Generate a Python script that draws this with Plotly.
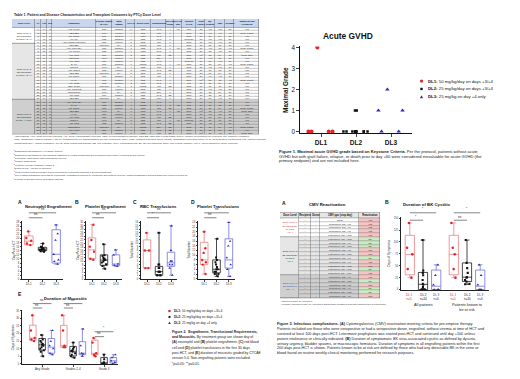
import plotly.graph_objects as go

W, H = 520, 379
FONT = "Liberation Sans, Arial, sans-serif"


def X(p):
    return p / W


def Y(p):
    return 1 - p / H


# ------------------------------------------------------------------ data
dose_levels = ["DL1", "DL2", "DL3"]
dose_desc = ["50 mg/kg/day on days +3/+4", "25 mg/kg/day on days +3/+4", "25 mg/kg on day +4 only"]

# Figure 1 - maximal acute GVHD grade
gvhd_dl1 = [4, 0, 0, 0, 0]
gvhd_dl2 = [1, 1, 0, 0, 0, 0, 0, 0, 0, 0, 0, 0, 0, 0]
gvhd_dl3 = [2, 1, 1, 0, 0]
gvhd_ticks = [0, 1, 2, 3, 4]

# Figure 2 - points and box stats [min, q1, median, q3, max]
neut_pts = {"DL1": [23.5, 20.3, 18.9, 17.6, 16.8],
            "DL2": [17.6, 16.0, 15.6, 15.3, 15.0, 14.8, 14.6, 14.4, 14.1, 13.8, 13.6],
            "DL3": [26.7, 22.4, 19.2, 12.3, 9.6, 8.8, 7.5]}
neut_stats = {"DL1": [16.8, 16.9, 18.7, 21.3, 23.5],
              "DL2": [13.6, 14.1, 14.9, 15.7, 17.6],
              "DL3": [7.5, 8.0, 12.3, 24.3, 26.7]}

plt_pts = {"DL1": [30.5, 22.0, 18.3, 15.5, 11.5, 11.0],
           "DL2": [19.6, 13.5, 13.0, 12.0, 11.5, 11.0, 10.8, 10.0, 9.5, 8.5, 7.5, 5.9],
           "DL3": [16.5, 13.7, 8.6, 8.0, 7.3]}
plt_stats = {"DL1": [11.0, 11.5, 16.5, 23.2, 30.5],
             "DL2": [5.9, 7.9, 10.8, 13.7, 19.6],
             "DL3": [7.3, 7.7, 8.6, 13.7, 16.5]}

rbc_pts = {"DL1": [13, 8, 8, 3, 3],
           "DL2": [13, 4, 4, 3, 3, 2, 2, 2, 1, 1, 1, 1],
           "DL3": [15, 8, 5, 5, 4, 4, 3, 1]}
rbc_stats = {"DL1": [3, 3, 8, 11, 13],
             "DL2": [1, 1, 2, 3.5, 13],
             "DL3": [1, 3.5, 4.5, 7.5, 15]}

pltx_pts = {"DL1": [20, 13, 11, 8, 7, 6, 2],
            "DL2": [17, 9, 8, 7, 6, 5, 4, 4, 3, 3, 2, 2, 1],
            "DL3": [24, 16, 14, 9, 6, 4, 1]}
pltx_stats = {"DL1": [2, 6, 8, 15.5, 20],
              "DL2": [1, 2.5, 4, 8, 17],
              "DL3": [1, 4.5, 8, 17, 24]}

muco_groups = ["Any Grade", "Grades 2-4", "Grade 3"]
muco_pts = {"DL1": [[32, 22, 17, 16, 15], [32, 22, 12, 11, 11], [17, 14, 7, 6, 5]],
            "DL2": [[19, 16, 15, 14, 13, 12.5, 12, 11, 10, 9, 8, 5],
                    [14, 11, 10, 9, 8.5, 8, 7, 6, 5, 4],
                    [6, 3, 1, 0, 0, 0, 0, 0, 0, 0]],
            "DL3": [[22, 15, 12, 10, 7, 6], [23, 12, 7, 6.5, 5], [6, 4, 2, 1, 0]]}
muco_stats = {"DL1": [[15, 15.5, 17, 25.5, 32], [11, 11, 12, 25.4, 32], [5, 6, 7, 15.6, 17]],
              "DL2": [[5, 9, 12.5, 16.7, 19], [4, 5.2, 8.3, 11.5, 14], [0, 0, 0.5, 4.2, 6.3]],
              "DL3": [[6, 7, 11, 16.7, 22], [5, 6, 7, 14.6, 23], [0, 0.5, 2, 4.2, 6]]}

# Figure 3B - BK cystitis
bk_groups = ["All patients", "Patients known to be at risk"]
bk_pts = {"DL1": [[140, 88, 74, 43, 25], [140, 88, 74, 43, 25]],
          "DL2": [[104, 40, 35, 30, 20, 12, 10, 5, 0, 0, 0, 0, 0, 0],
                  [104, 56, 45, 35, 26, 25, 20, 17, 12, 11]],
          "DL3": [[52, 30, 10, 0, 0, 0], [52, 30, 10, 0, 0, 0]]}
bk_stats = {"DL1": [[25, 31, 74, 114, 140], [25, 31, 74, 114, 140]],
            "DL2": [[0, 0, 11, 36, 104], [11, 17, 26, 56, 104]],
            "DL3": [[0, 0, 7, 41, 52], [0, 0, 7, 41, 52]]}
bk_n = {"All patients": ["n=5", "n=14", "n=6"],
        "Patients known to be at risk": ["n=5", "n=10", "n=6"]}

# Figure 3A - CMV table
cmv_header = ["Dose Level", "Recipient", "Donor", "CMV ppx (stop day)", "Reactivation"]
cmv_group_sizes = [5, 10, 6]
cmv_group_labels = ["<span style='color:#d42a2a'>Dose Level 1<br>50 mg/kg/day<br>on days<br>+3/+4</span>",
                    "Dose Level 2<br>25 mg/kg/day<br>on days<br>+3/+4",
                    "<span style='color:#2f4fb5'>Dose Level 3<br>25 mg/kg on<br>day +4</span>"]
cmv_recipient = ["+", "+", "+", "+", "+", "+", "+", "+", "-", "+", "+", "+", "+", "+", "+",
                 "+", "+", "+", "+", "+", "-"]
cmv_donor = ["+", "-", "+", "+", "-", "+", "-", "+", "+", "-", "+", "+", "-", "+", "+",
             "+", "-", "+", "+", "-", "+"]
cmv_ppx = ["None", "Letermovir, day +98", "Letermovir, day +99", "Letermovir, day +96",
           "Letermovir, day +101", "Letermovir, day +100", "Letermovir, day +99",
           "Letermovir, day +100", "Letermovir, day +98", "Letermovir, day +100",
           "Letermovir, day +99", "Letermovir, day +97", "Letermovir, day +100",
           "Letermovir, day +101", "Letermovir, day +77**", "Letermovir, day +99",
           "Letermovir, day +100", "Letermovir, day +98", "Letermovir, day +99",
           "Letermovir, day +100", "Letermovir, day +96"]
cmv_react = ["Yes", "Yes", "Yes", "Yes", "Yes", "No", "No", "No", "Yes", "Yes*", "No", "Yes",
             "Yes*", "No", "Yes", "Yes", "No", "Yes*", "No", "No", "Yes*"]
cmv_footnotes = ["*Occurred while on letermovir",
                 "**Primary infection at day 16; letermovir started after treatment and then stopped due to intolerance"]

# Table 1
t1_title = "<b>Table 1. Patient and Disease Characteristics and Transplant Outcomes by PTCy Dose Level</b>"
t1_group_sizes = [5, 18, 11]
t1_group_labels = ["Dose Level 1<br>(50 mg/kg/day<br>on days +3/+4)",
                   "Dose Level 2<br>(25 mg/kg/day<br>on days +3/+4)",
                   "Dose Level 3<br>(25 mg/kg/day<br>on day +4 only)"]
t1_headers = ["Dose Level", "Pt", "Age", "Sex", "Diagnosis", "Disease Status<br>at HCT", "MRD<br>Status",
              "HCT-CI", "Donor Type", "Conditioning", "aGVHD<br>Grade", "aGVHD<br>Day", "Chronic<br>GVHD",
              "Graft<br>Failure", "BK<br>Cystitis", "CMV", "Relapse", "Status at Last<br>Follow-up"]
t1_pt = ["1", "2", "3", "4", "5", "6", "7", "8", "9", "10", "11", "12", "13", "14", "15", "16", "17",
         "18", "19", "20", "21", "22", "23", "24", "25", "26", "27", "28", "29", "30", "31", "32", "33", "34"]
t1_age = ["64", "58", "71", "45", "66", "52", "69", "38", "61", "73", "55", "47", "68", "62", "59", "70",
          "41", "57", "66", "63", "50", "72", "60", "67", "44", "58", "71", "36", "65", "53", "62", "69",
          "48", "59"]
t1_sex = ["M", "F", "M", "M", "F", "M", "F", "M", "M", "F", "M", "F", "M", "M", "F", "M", "F", "M",
          "M", "F", "M", "M", "F", "F", "M", "M", "F", "M", "M", "F", "M", "M", "F", "M"]
t1_diag = ["AML, inv(16)", "MDS-EB2", "AML, NPM1+", "ALL, Ph+", "AML, complex karyotype",
           "MDS-EB1", "AML, FLT3-ITD+", "ALL, Ph-like", "AML, MRC", "MDS/MPN", "AML, TP53", "B-ALL",
           "CMML-2", "AML, RUNX1", "MDS-EB2", "AML, NPM1+", "T-ALL", "AML, t(8;21)", "MDS, del(5q)",
           "AML, FLT3-TKD", "Myelofibrosis", "AML, MRC", "MDS-EB1",
           "AML, FLT3-ITD+", "B-ALL", "AML, NPM1+", "MDS-EB2", "T-ALL", "AML, TP53", "CMML-1",
           "AML, MRC", "MDS/MPN-U", "AML, inv(3)", "MPAL"]
t1_status = ["CR1", "Active", "CR1", "CR2", "CR1", "Untreated", "CR1", "CR2", "CR1", "Active", "CR1",
             "CR1", "Active", "CR2", "Untreated", "CR1", "CR1", "CR2", "Untreated", "CR1", "Active",
             "CR1", "Untreated", "CR1", "CR2", "CR1", "Active", "CR1", "CR1", "Active", "CR2",
             "Untreated", "CR1", "CR1"]
t1_mrd = ["Negative", "Positive", "Negative", "Negative", "Positive", "N/A", "Negative", "Positive",
          "Negative", "Positive", "Negative", "Negative", "N/A", "Positive", "N/A", "Negative", "Negative",
          "Negative", "N/A", "Positive", "N/A", "Negative", "N/A", "Negative", "Negative", "Positive",
          "N/A", "Negative", "Positive", "N/A", "Negative", "N/A", "Negative", "Positive"]
t1_hctci = ["3", "1", "4", "0", "2", "5", "3", "1", "2", "6", "3", "0", "4", "2", "3", "5", "1", "2",
            "3", "4", "2", "3", "1", "4", "0", "2", "3", "1", "5", "2", "3", "4", "1", "2"]
t1_donor = ["MUD", "MUD", "Haplo", "MRD", "MUD", "MMUD", "MUD", "Haplo", "MUD", "MRD", "MUD", "MMUD",
            "MUD", "Haplo", "MUD", "MUD", "MRD", "MUD", "MMUD", "MUD", "Haplo", "MUD", "MRD", "MUD",
            "MMUD", "MUD", "Haplo", "MUD", "MRD", "MUD", "MUD", "MMUD", "MUD", "Haplo"]
t1_cond = ["MAC", "RIC", "MAC", "MAC", "RIC", "RIC", "MAC", "MAC", "RIC", "NMA", "MAC", "MAC", "RIC",
           "MAC", "RIC", "RIC", "MAC", "MAC", "RIC", "RIC", "NMA", "MAC", "RIC", "MAC", "MAC", "RIC",
           "MAC", "MAC", "RIC", "RIC", "MAC", "NMA", "MAC", "RIC"]
t1_agrade = ["4", "0", "0", "0", "0", "0", "1", "0", "NE", "0", "0", "1", "0", "NE", "0", "0", "0", "0",
             "NE", "0", "0", "NE", "0", "0", "2", "NE", "1", "0", "NE", "1", "NE", "NE", "NE", "NE"]
t1_aday = ["+24", "-", "-", "-", "-", "-", "+31", "-", "-", "-", "-", "+45", "-", "-", "-", "-", "-", "-",
           "-", "-", "-", "-", "-", "-", "+28", "-", "+52", "-", "-", "+39", "-", "-", "-", "-"]
t1_cgvhd = ["Mild", "None", "None", "Moderate", "None", "None", "Mild", "None", "None", "None",
            "Moderate", "None", "None", "Mild", "None", "None", "None", "Mild", "None", "None", "None",
            "None", "None", "None", "Mild", "None", "None", "None", "None", "Moderate", "None", "None",
            "None", "None"]
t1_gf = ["No", "No", "No", "No", "No", "No", "No", "No", "Yes<sup>c</sup>", "No", "No", "No", "No", "No",
         "No", "No", "Yes<sup>d</sup>", "No", "No", "No", "No", "No", "No", "No", "No", "No",
         "Yes<sup>c</sup>", "No", "No", "No", "No", "No", "No", "Yes<sup>d</sup>"]
t1_bk = ["Yes", "Yes", "No", "Yes", "Yes", "No", "Yes", "No", "No", "Yes", "No", "No", "Yes", "No", "No",
         "Yes", "No", "No", "No", "Yes", "No", "No", "No", "Yes", "No", "No", "No", "Yes", "No", "No",
         "Yes", "No", "No", "No"]
t1_cmv = ["Yes", "Yes", "N/A", "Yes", "Yes", "No", "No", "Yes", "N/A", "No", "Yes", "N/A", "Yes", "No",
          "N/A", "Yes", "No", "N/A", "No", "Yes", "N/A", "No", "Yes", "Yes", "No", "N/A", "Yes", "No",
          "N/A", "No", "Yes", "N/A", "No", "Yes"]
t1_relapse = ["No", "Yes", "No", "No", "No", "No", "Yes", "No", "No", "No", "No", "Yes", "No", "No", "No",
              "No", "Yes", "No", "No", "No", "No", "No", "No", "No", "No", "Yes", "No", "No", "No", "No",
              "No", "Yes", "No", "No"]
t1_last = ["Alive", "Dead, relapse", "Alive", "Alive", "Alive", "Alive", "Dead, relapse", "Alive",
           "Dead, NRM", "Alive", "Alive", "Dead, relapse", "Alive", "Alive", "Alive", "Alive",
           "Dead, relapse", "Alive", "Alive", "Alive", "Alive", "Alive", "Alive", "Alive", "Alive",
           "Dead, relapse", "Dead, NRM", "Alive", "Alive", "Alive", "Alive", "Dead, relapse", "Alive",
           "Dead, NRM"]
t1_abbrev = [
    "Abbreviations: AML, acute myeloid leukemia; ALL, acute lymphoblastic leukemia; MDS, myelodysplastic syndrome; MDS-EB, MDS with excess blasts; CMML, chronic myelomonocytic leukemia; CR, complete remission;",
    "MRD, measurable residual disease; HCT-CI, hematopoietic cell transplantation-specific comorbidity index; MUD, matched unrelated donor; MMUD, mismatched unrelated donor; MAC, myeloablative conditioning; RIC, reduced intensity",
    "conditioning; NMA, nonmyeloablative; GVHD, graft-versus-host disease; NE, not evaluable; CMV, cytomegalovirus; BK, BK polyomavirus; NRM, non-relapse mortality; MPAL, mixed phenotype acute leukemia."]
t1_notes = [
    "<sup>a</sup>Diagnosed and graded by Keystone Criteria",
    "<sup>b</sup>Diagnosed and staged by the National Institutes of Health Consensus Development Project 2014 Working Group Report",
    "<sup>c</sup>Secondary graft failure with autologous recovery",
    "<sup>d</sup>Primary graft failure",
    "<sup>e</sup>Cytokine release syndrome, grade 2",
    "<sup>f</sup>Death on day +35 due to infection",
    "<sup>g</sup>Graft rejection with secondary donor-dependent cytopenias requiring a second transplant",
    "<sup>h</sup>Pre-existing transfusion-dependent cytopenias; engraftment defined by neutrophil and platelet recovery without transfusion support within the period of follow-up",
    "<sup>i</sup>Relapse is defined as any detectable disease"]

# captions
fig1_caption = [
    "<b>Figure 1. Maximal acute GVHD grade based on Keystone Criteria.</b> Per the protocol, patients without acute",
    "GVHD but with graft failure, relapse, or death prior to day +60 were considered inevaluable for acute GVHD (the",
    "primary endpoint) and are not included here."]
fig2_caption = [
    "<b>Figure 2.  Engraftment, Transfusional Requirements,</b>",
    "<b>and Mucositis.</b> By treatment group are shown day of",
    "<b>(A)</b> neutrophil and <b>(B)</b> platelet engraftment, <b>(C)</b> red blood",
    "cell and <b>(D)</b> platelet transfusions in the first 30 days",
    "post-HCT, and <b>(E)</b> duration of mucositis graded by CTCAE",
    "version 5.0. Non-engrafting patients were excluded.",
    "*p≤0.05; **p≤0.01."]
fig3_caption = [
    "<b>Figure 3. Infectious complications. (A)</b> Cytomegalovirus (CMV) reactivation meeting criteria for pre-emptive therapy.",
    "Patients included are those who were seropositive or had a seropositive donor, engrafted, without viremia at time of HCT and",
    "survived at least 100 days post-HCT. Letermovir prophylaxis was started post-HCT and continued until day +100 unless",
    "patient intolerance or clinically indicated. <b>(B)</b> Duration of symptomatic BK virus-associated cystitis as defined by dysuria,",
    "urinary urgency, bladder spasms, or macroscopic hematuria. Duration of symptoms in all engrafting patients within the first",
    "200 days post-HCT is shown. Patients known to be at risk are defined by those who had any detectable BK in the urine or",
    "blood found on routine weekly clinical monitoring performed for research purposes."]

# ------------------------------------------------------------------ styles
pt_color = {"DL1": "#e1262b", "DL2": "#111111", "DL3": "#2a2ab8"}
box_color = {"DL1": "#ee8083", "DL2": "#1a1a1a", "DL3": "#7070dc"}
pt_symbol = {"DL1": "circle", "DL2": "square", "DL3": "triangle-up"}
cscale = [[0.0, "#ffffff"], [0.2, "#e6e6e6"], [0.4, "#cfcfcf"], [0.6, "#c8d6ee"],
          [0.8, "#f5c4c4"], [1.0, "#c9eac2"]]

fig = go.Figure()
layout_axes = {}
annotations = []
shapes = []


def axkeys(n):
    return ("xaxis" if n == 1 else f"xaxis{n}", "yaxis" if n == 1 else f"yaxis{n}",
            "x" if n == 1 else f"x{n}", "y" if n == 1 else f"y{n}")


def txt(x, y, text, size, xanchor="left", yanchor="middle", color="#222", angle=0,
        xref="paper", bold=False):
    annotations.append(dict(x=x if xref != "paper" else X(x), y=Y(y), xref=xref, yref="paper",
                            text=f"<b>{text}</b>" if bold else text, showarrow=False,
                            font=dict(size=size, color=color, family=FONT), xanchor=xanchor,
                            yanchor=yanchor, textangle=angle, borderpad=0))


def legend_key(dl, cx, cy, r):
    """Legend symbol (not a data mark) drawn as a small shape in pixel space."""
    col = pt_color[dl]
    if dl == "DL1":
        shapes.append(dict(type="circle", xref="paper", yref="paper", x0=X(cx - r), x1=X(cx + r),
                           y0=Y(cy + r), y1=Y(cy - r), fillcolor=col, line=dict(width=0)))
    elif dl == "DL2":
        r2 = r * 0.75
        shapes.append(dict(type="rect", xref="paper", yref="paper", x0=X(cx - r2), x1=X(cx + r2),
                           y0=Y(cy + r2), y1=Y(cy - r2), fillcolor=col, line=dict(width=0)))
    else:
        path = f"M {X(cx - r)},{Y(cy + r * 0.85)} L {X(cx + r)},{Y(cy + r * 0.85)} L {X(cx)},{Y(cy - r)} Z"
        shapes.append(dict(type="path", xref="paper", yref="paper", path=path, fillcolor=col,
                           line=dict(width=0)))


def bracket(n, x0, x1, ypx, label):
    shapes.append(dict(type="line", xref=f"x{n}", yref="paper", x0=x0, x1=x1, y0=Y(ypx), y1=Y(ypx),
                       line=dict(color="#333", width=0.6)))
    txt((x0 + x1) / 2, ypx - 0.4, label, 3.2, xanchor="center", yanchor="bottom", xref=f"x{n}")


def add_points(n, dl, xs, ys, size, offsetgroup, width=None, jitter=0.8):
    kx, ky, rx, ry = axkeys(n)
    fig.add_trace(go.Box(x=xs, y=ys, name=dl, boxpoints="all", jitter=jitter, pointpos=0,
                         fillcolor="rgba(0,0,0,0)", line=dict(width=0, color="rgba(0,0,0,0)"),
                         marker=dict(color=pt_color[dl], symbol=pt_symbol[dl], size=size, line=dict(width=0)),
                         offsetgroup=offsetgroup, width=width, xaxis=rx, yaxis=ry,
                         showlegend=False, hoverinfo="y"))


def add_box(n, dl, cats, stats, offsetgroup, width=None):
    kx, ky, rx, ry = axkeys(n)
    fig.add_trace(go.Box(x=cats, lowerfence=[s[0] for s in stats], q1=[s[1] for s in stats],
                         median=[s[2] for s in stats], q3=[s[3] for s in stats],
                         upperfence=[s[4] for s in stats], boxpoints=False, name=dl,
                         fillcolor="rgba(255,255,255,0)", line=dict(color=box_color[dl], width=0.8),
                         whiskerwidth=0.5, offsetgroup=offsetgroup, width=width,
                         xaxis=rx, yaxis=ry, showlegend=False, hoverinfo="skip"))


def box_axes(n, xpx, ypx, yrange, dtick, cats, xrange=None, ticklabels=True):
    kx, ky, rx, ry = axkeys(n)
    layout_axes[kx] = dict(domain=[X(xpx[0]), X(xpx[1])], anchor=ry, type="category",
                           categoryorder="array", categoryarray=cats,
                           range=xrange or [-0.5, len(cats) - 0.5], showline=True, linecolor="#222",
                           linewidth=0.7, ticks="outside" if ticklabels else "", ticklen=1.5,
                           tickwidth=0.5, showticklabels=ticklabels,
                           tickfont=dict(size=3, family=FONT, color="#333"), showgrid=False,
                           zeroline=False, fixedrange=True)
    layout_axes[ky] = dict(domain=[Y(ypx[1]), Y(ypx[0])], anchor=rx, range=yrange, dtick=dtick,
                           showline=True, linecolor="#222", linewidth=0.7, ticks="outside",
                           ticklen=1.5, tickwidth=0.5, tickfont=dict(size=2.6, family=FONT, color="#333"),
                           showgrid=False, zeroline=False, fixedrange=True)


# ------------------------------------------------------------------ Table 1 (axis 1)
t1_widths = [23, 6, 6, 5, 44, 16, 14, 9, 16, 15, 8, 8, 14, 9, 10, 10, 9, 25]
t1_x0, t1_top, t1_head_bottom, t1_bottom = 4, 8, 17, 125
t1_edges = [t1_x0]
for w_ in t1_widths:
    t1_edges.append(t1_edges[-1] + w_)
t1_cols = [t1_pt, t1_age, t1_sex, t1_diag, t1_status, t1_mrd, t1_hctci, t1_donor, t1_cond, t1_agrade,
           t1_aday, t1_cgvhd, t1_gf, t1_bk, t1_cmv, t1_relapse, t1_last]
t1_nrows = len(t1_pt)
t1_rowh = (t1_bottom - t1_head_bottom) / t1_nrows
t1_yedges = [t1_head_bottom + i * t1_rowh for i in range(t1_nrows + 1)]
t1_codes = []
for gi, gsize in enumerate(t1_group_sizes):
    t1_codes += [2 if gi == 2 else 0] * gsize
kx, ky, rx, ry = axkeys(1)
layout_axes[kx] = dict(domain=[X(t1_edges[0]), X(t1_edges[-1])], range=[t1_edges[0], t1_edges[-1]],
                       visible=False, fixedrange=True)
layout_axes[ky] = dict(domain=[Y(t1_bottom), Y(t1_top)], range=[t1_bottom, t1_top], visible=False,
                       fixedrange=True)
shapes.append(dict(type="rect", xref="x", yref="y", x0=t1_edges[0], x1=t1_edges[-1], y0=t1_top,
                   y1=t1_bottom, fillcolor="#5c5c5c", line=dict(width=0.8, color="#333"), layer="below"))
fig.add_trace(go.Heatmap(x=t1_edges, y=[t1_top, t1_head_bottom], z=[[3] * len(t1_headers)],
                         text=[["<b>" + h + "</b>" for h in t1_headers]], texttemplate="%{text}",
                         textfont=dict(size=2.3, family=FONT, color="#111"), colorscale=cscale, zmin=0,
                         zmax=5, showscale=False, xgap=0.45, ygap=0.45, hoverinfo="skip", xaxis=rx, yaxis=ry))
fig.add_trace(go.Heatmap(x=t1_edges[1:], y=t1_yedges,
                         z=[[c] * len(t1_cols) for c in t1_codes],
                         text=[[col[r] for col in t1_cols] for r in range(t1_nrows)],
                         texttemplate="%{text}", textfont=dict(size=2.1, family=FONT, color="#222"),
                         colorscale=cscale, zmin=0, zmax=5, showscale=False, xgap=0.4, ygap=0.35,
                         hoverinfo="skip", xaxis=rx, yaxis=ry))
g_edges = [t1_head_bottom]
for gsize in t1_group_sizes:
    g_edges.append(g_edges[-1] + gsize * t1_rowh)
fig.add_trace(go.Heatmap(x=t1_edges[:2], y=g_edges, z=[[0], [1], [2]],
                         text=[[lab] for lab in t1_group_labels], texttemplate="%{text}",
                         textfont=dict(size=2.4, family=FONT, color="#222"), colorscale=cscale, zmin=0,
                         zmax=5, showscale=False, xgap=0.45, ygap=0.6, hoverinfo="skip", xaxis=rx, yaxis=ry))
txt(5, 4.2, t1_title, 3.4)
for i, line in enumerate(t1_abbrev):
    txt(4.5, 127 + i * 3.4, line, 2.45, color="#333")
for i, line in enumerate(t1_notes):
    txt(4.5, 142 + i * 3.5, line, 2.45, color="#333")

# ------------------------------------------------------------------ Figure 1 (axis 2)
kx, ky, rx, ry = axkeys(2)
layout_axes[kx] = dict(domain=[X(292), X(404)], anchor=ry, type="category", categoryorder="array",
                       categoryarray=dose_levels, range=[-0.6, 2.6], showline=True, linecolor="#111",
                       linewidth=1.3, ticks="outside", ticklen=2.5, tickwidth=1.1,
                       tickfont=dict(size=6.5, family=FONT, color="#111"), tickprefix="<b>",
                       ticksuffix="</b>", showgrid=False, zeroline=False, fixedrange=True)
layout_axes[ky] = dict(domain=[Y(123.7), Y(35.9)], anchor=rx, range=[-0.08, 4.05], tickvals=gvhd_ticks,
                       showline=True, linecolor="#111", linewidth=1.3, ticks="outside", ticklen=2.5,
                       tickwidth=1.1, tickfont=dict(size=6.3, family=FONT, color="#111"), tickprefix="<b>",
                       ticksuffix="</b>", showgrid=False, zeroline=False, fixedrange=True)
for dl, vals, sz in zip(dose_levels, [gvhd_dl1, gvhd_dl2, gvhd_dl3], [4.0, 2.5, 4.0]):
    add_points(2, dl, [dl] * len(vals), vals, sz, "g", width=0.85, jitter=1.0)
txt(340, 25, "Acute GVHD", 8.4, xanchor="center", bold=True, color="#111")
txt(278, 80, "Maximal Grade", 6.4, xanchor="center", angle=-90, bold=True, color="#111")
for i, dl in enumerate(dose_levels):
    legend_key(dl, 413.5, 71 + i * 8, 1.6)
    txt(418.5, 71 + i * 8, f"<b>{dl}:</b> {dose_desc[i]}", 4.3, color="#111")
for i, line in enumerate(fig1_caption):
    txt(269.5, 142.5 + i * 4.6, line, 4.1, color="#222")

# ------------------------------------------------------------------ Figure 2 A-D (axes 3-6)
panels = [(3, neut_pts, neut_stats, (14, 55), [0, 28.5], 2, "Neutrophil Engraftment", "Day Post-HCT", 12, 40, 6),
          (4, plt_pts, plt_stats, (78, 114), [0, 32.5], 2, "Platelet Engraftment", "Day Post-HCT", 69, 97, 70),
          (5, rbc_pts, rbc_stats, (133, 169), [-0.2, 16.3], 1, "RBC Transfusions", "Total Number", 127, 150, 124),
          (6, pltx_pts, pltx_stats, (190, 227), [-0.3, 24.5], 2, "Platelet Transfusions", "Total Number", 185, 210, 181)]
for n, pts, stats, xpx, yr, dt, title, ytitle, letter_x, title_x, ylab_x in panels:
    box_axes(n, xpx, (213, 272), yr, dt, dose_levels)
    for dl in dose_levels:
        add_box(n, dl, [dl], [stats[dl]], "s", width=0.62)
        add_points(n, dl, [dl] * len(pts[dl]), pts[dl], 2.0 if dl == "DL2" else 2.4, "s", width=0.62, jitter=0.7)
    txt(letter_x, 193.5, "A B C D".split()[n - 3], 5, xanchor="center", bold=True, color="#111")
    txt(title_x, 198, title, 4.2, xanchor="center", bold=True, color="#111")
    txt(ylab_x, 242, ytitle, 3.0, xanchor="center", angle=-90, color="#333")
bracket(3, 0, 2, 204.5, "ns")
bracket(3, 0, 1, 209.5, "ns")
bracket(4, 0, 2, 204.5, "ns")
bracket(4, 0, 1, 209.5, "ns")
bracket(5, 0, 2, 204.5, "ns")
bracket(5, 0, 1, 209.5, "*")
bracket(6, 0, 2, 204.5, "ns")
bracket(6, 0, 1, 209.5, "ns")

# ------------------------------------------------------------------ Figure 2 E (axis 7)
box_axes(7, (14, 110), (303, 358), [-0.3, 35.5], 5, muco_groups, xrange=[-0.65, 2.45])
for dl in dose_levels:
    add_box(7, dl, muco_groups, muco_stats[dl], dl)
    xs, ys = [], []
    for g, vals in zip(muco_groups, muco_pts[dl]):
        xs += [g] * len(vals)
        ys += vals
    add_points(7, dl, xs, ys, 2.0 if dl == "DL2" else 2.4, dl, jitter=0.7)
txt(12, 287, "E", 5, xanchor="center", bold=True, color="#111")
txt(57, 291, "Duration of Mucositis", 4.2, xanchor="center", bold=True, color="#111")
txt(5, 330, "Days of Symptoms", 3.0, xanchor="center", angle=-90, color="#333")
for g in range(3):
    if g < 2:
        bracket(7, g - 0.3, g + 0.3, 296.5, "ns")
        bracket(7, g - 0.3, g, 301, "ns")
    else:
        bracket(7, g - 0.3, g + 0.3, 325, "*")
        bracket(7, g - 0.3, g, 330, "ns")
for i, dl in enumerate(dose_levels):
    legend_key(dl, 161.5, 304 + i * 6, 1.3)
    txt(165, 304 + i * 6, f"<b>{dl}:</b> {dose_desc[i]}", 3.2, color="#222")
for i, line in enumerate(fig2_caption):
    txt(163, 325 + i * 5.4, line, 3.45, color="#222")

# ------------------------------------------------------------------ Figure 3A CMV table (axis 8)
cmv_widths = [19, 12, 9, 39, 21]
cmv_x0, cmv_top, cmv_head_bottom, cmv_bottom = 272, 204, 210, 291
cmv_edges = [cmv_x0]
for w_ in cmv_widths:
    cmv_edges.append(cmv_edges[-1] + w_)
cmv_nrows = len(cmv_ppx)
cmv_rowh = (cmv_bottom - cmv_head_bottom) / cmv_nrows
cmv_yedges = [cmv_head_bottom + i * cmv_rowh for i in range(cmv_nrows + 1)]
cmv_rowcode = []
for gi, gsize in enumerate(cmv_group_sizes):
    cmv_rowcode += [gi] * gsize
kx, ky, rx, ry = axkeys(8)
layout_axes[kx] = dict(domain=[X(cmv_edges[0]), X(cmv_edges[-1])], range=[cmv_edges[0], cmv_edges[-1]],
                       visible=False, fixedrange=True)
layout_axes[ky] = dict(domain=[Y(cmv_bottom), Y(cmv_top)], range=[cmv_bottom, cmv_top], visible=False,
                       fixedrange=True)
shapes.append(dict(type="rect", xref="x8", yref="y8", x0=cmv_edges[0], x1=cmv_edges[-1], y0=cmv_top,
                   y1=cmv_bottom, fillcolor="#6a6a6a", line=dict(width=0.7, color="#444"), layer="below"))
fig.add_trace(go.Heatmap(x=cmv_edges, y=[cmv_top, cmv_head_bottom], z=[[1] * len(cmv_header)],
                         text=[["<b>" + h + "</b>" for h in cmv_header]], texttemplate="%{text}",
                         textfont=dict(size=2.6, family=FONT, color="#111"), colorscale=cscale, zmin=0,
                         zmax=5, showscale=False, xgap=0.45, ygap=0.45, hoverinfo="skip", xaxis=rx, yaxis=ry))
cmv_z = [[cmv_rowcode[r]] * 3 + [4 if cmv_react[r].startswith("Yes") else 5] for r in range(cmv_nrows)]
cmv_text = [[cmv_recipient[r], cmv_donor[r], cmv_ppx[r], cmv_react[r]] for r in range(cmv_nrows)]
fig.add_trace(go.Heatmap(x=cmv_edges[1:], y=cmv_yedges, z=cmv_z, text=cmv_text, texttemplate="%{text}",
                         textfont=dict(size=2.5, family=FONT, color="#222"), colorscale=cscale, zmin=0,
                         zmax=5, showscale=False, xgap=0.45, ygap=0.4, hoverinfo="skip", xaxis=rx, yaxis=ry))
cg_edges = [cmv_head_bottom]
for gsize in cmv_group_sizes:
    cg_edges.append(cg_edges[-1] + gsize * cmv_rowh)
fig.add_trace(go.Heatmap(x=cmv_edges[:2], y=cg_edges, z=[[0], [1], [2]],
                         text=[[lab] for lab in cmv_group_labels], texttemplate="%{text}",
                         textfont=dict(size=2.5, family=FONT, color="#222"), colorscale=cscale, zmin=0,
                         zmax=5, showscale=False, xgap=0.45, ygap=0.6, hoverinfo="skip", xaxis=rx, yaxis=ry))
txt(272.5, 194.5, "A", 5, bold=True, color="#111")
txt(319, 196, "CMV Reactivation", 4.3, xanchor="center", bold=True, color="#111")
for i, line in enumerate(cmv_footnotes):
    txt(272, 294 + i * 3.4, line, 2.4, color="#333")

# ------------------------------------------------------------------ Figure 3B BK cystitis (axis 9)
box_axes(9, (393, 481), (209, 283), [-1.5, 152], 25, bk_groups, ticklabels=False)
for dl in dose_levels:
    add_box(9, dl, bk_groups, bk_stats[dl], dl)
    xs, ys = [], []
    for g, vals in zip(bk_groups, bk_pts[dl]):
        xs += [g] * len(vals)
        ys += vals
    add_points(9, dl, xs, ys, 2.1 if dl == "DL2" else 2.6, dl, jitter=0.7)
for gi, g in enumerate(bk_groups):
    for k, dl in enumerate(dose_levels):
        txt(gi + (k - 1) * 0.3, 289.5, f"{dl[:2]} {dl[2]}<br>{bk_n[g][k]}", 3.0, xanchor="center",
            color=pt_color[dl], xref="x9")
txt(0, 298, "All patients", 3.8, xanchor="center", xref="x9", color="#222")
txt(1, 300, "Patients known to<br>be at risk", 3.8, xanchor="center", xref="x9", color="#222")
txt(375.5, 193.5, "B", 5, bold=True, color="#111")
txt(419, 196, "Duration of BK Cystitis", 4.3, xanchor="center", bold=True, color="#111")
txt(381, 246, "Days of Symptoms", 3.2, xanchor="center", angle=-90, color="#333")
bracket(9, -0.3, 0.3, 204.5, "*")
bracket(9, -0.3, 0.0, 212, "*")
bracket(9, 0.7, 1.3, 204.5, "*")
bracket(9, 0.7, 1.0, 212, "ns")
for i, line in enumerate(fig3_caption):
    txt(268, 317 + i * 5, line, 3.75, color="#222")

# ------------------------------------------------------------------ layout
fig.update_layout(width=W, height=H, margin=dict(l=0, r=0, t=0, b=0), paper_bgcolor="white",
                  plot_bgcolor="rgba(0,0,0,0)", showlegend=False, boxmode="group", boxgap=0.1,
                  boxgroupgap=0.3, font=dict(family=FONT, color="#222"), annotations=annotations,
                  shapes=shapes, **layout_axes)
fig.write_html("out.html")
